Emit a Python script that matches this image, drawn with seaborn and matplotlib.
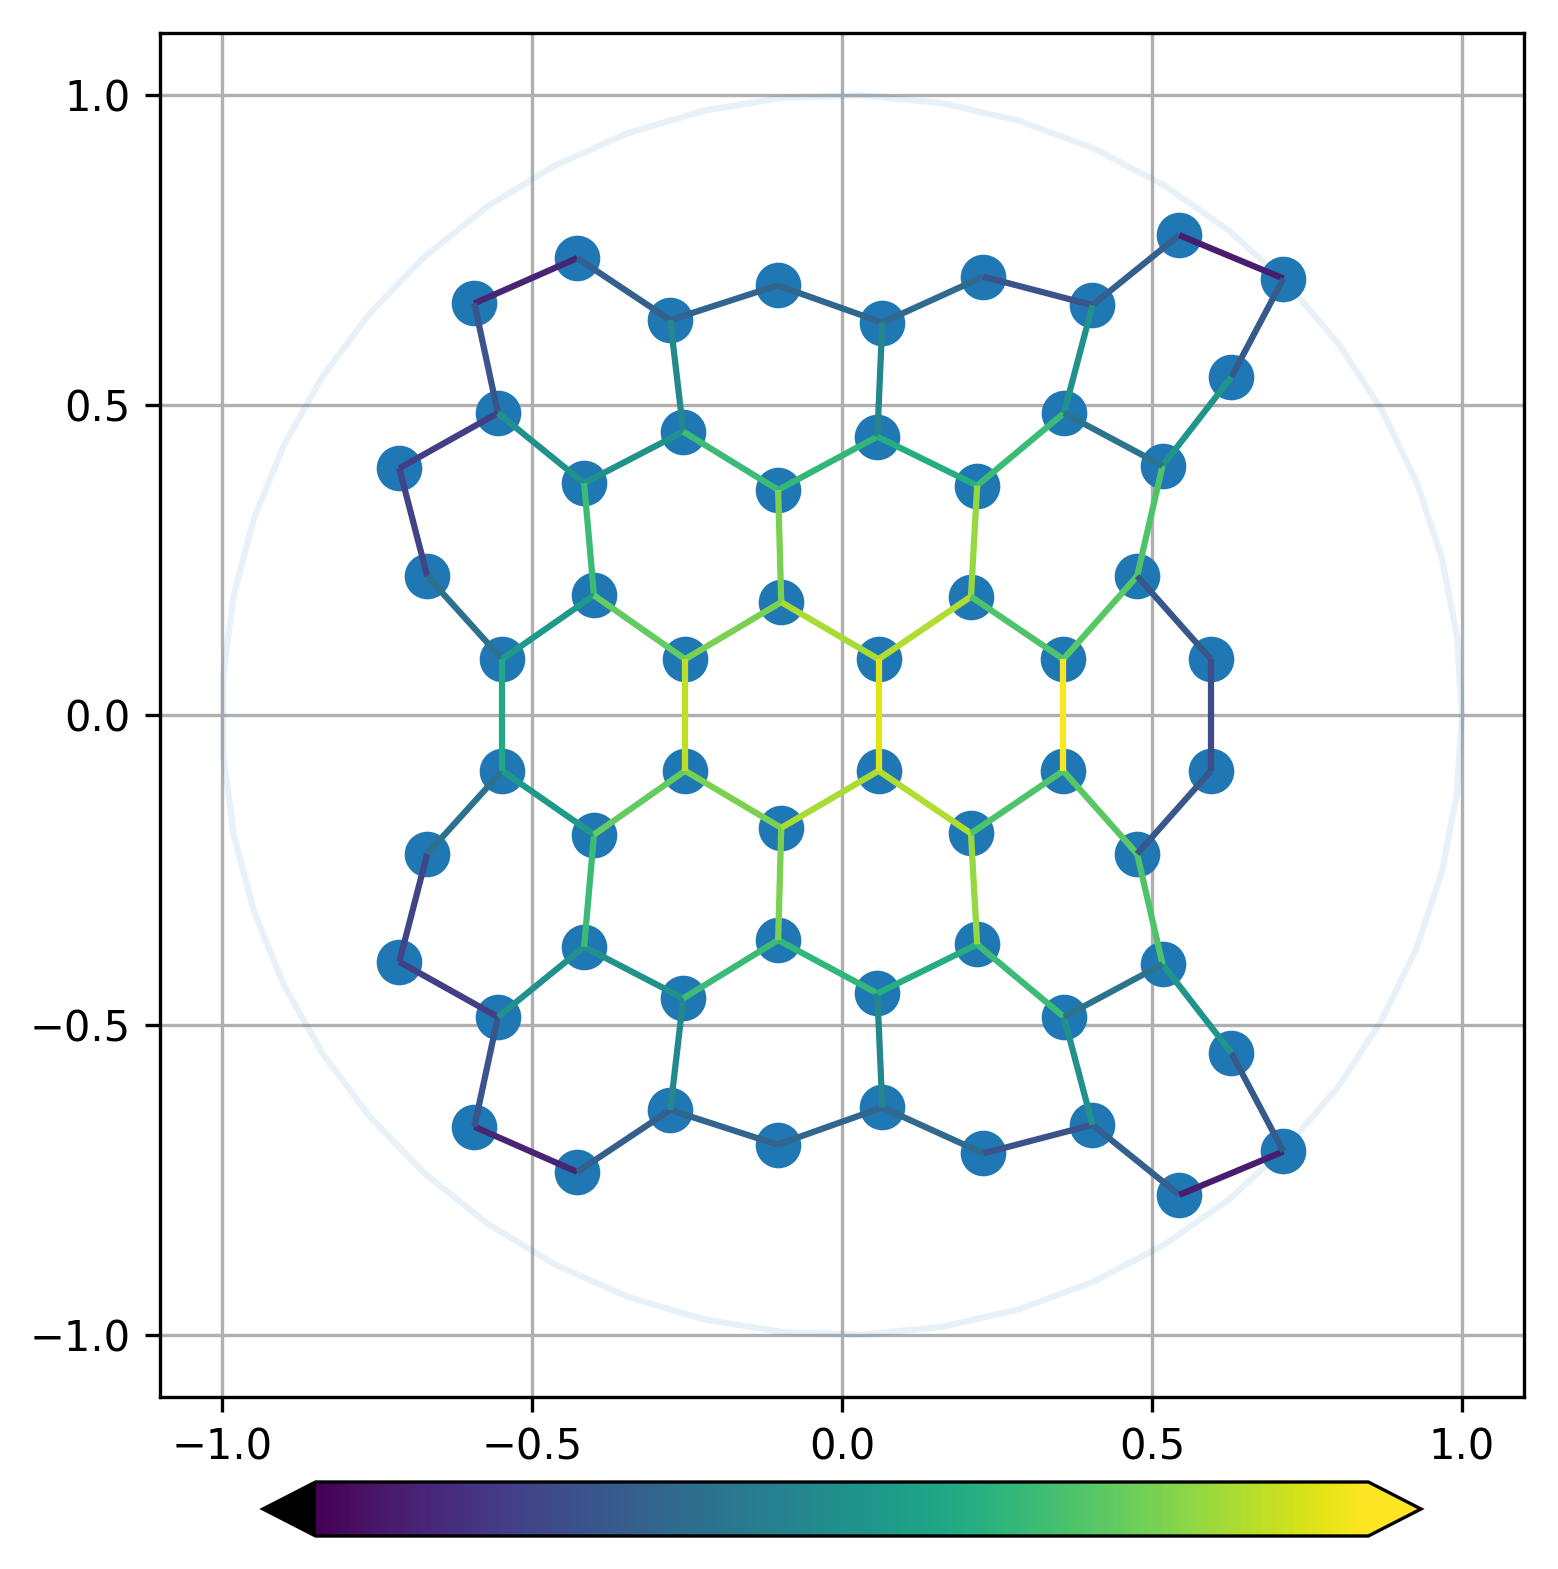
import numpy as np
import pandas as pd
import matplotlib
matplotlib.use('Agg')
import matplotlib.pyplot as plt
from matplotlib.collections import LineCollection
import seaborn as sns

# node positions in the disk (upper half first, then lower half)
node_x = [-0.593, -0.427, -0.277, -0.104, 0.065, 0.228, 0.404, 0.544, 0.712, 0.628,
          0.517, 0.476, -0.555, -0.714, -0.669, -0.548, -0.416, -0.256, -0.103, 0.057,
          0.218, 0.358, -0.400, -0.098, 0.208, -0.253, 0.059, 0.357, 0.595,
          -0.593, -0.427, -0.277, -0.104, 0.065, 0.228, 0.404, 0.544, 0.712, 0.628,
          0.517, 0.476, -0.555, -0.714, -0.669, -0.548, -0.416, -0.256, -0.103, 0.057,
          0.218, 0.358, -0.400, -0.098, 0.208, -0.253, 0.059, 0.357, 0.595]
node_y = [0.664, 0.737, 0.637, 0.693, 0.633, 0.707, 0.661, 0.774, 0.704, 0.545,
          0.402, 0.224, 0.487, 0.398, 0.224, 0.090, 0.374, 0.457, 0.363, 0.449,
          0.370, 0.487, 0.193, 0.182, 0.191, 0.090, 0.090, 0.090, 0.090,
          -0.664, -0.737, -0.637, -0.693, -0.633, -0.707, -0.661, -0.774, -0.704, -0.545,
          -0.402, -0.224, -0.487, -0.398, -0.224, -0.090, -0.374, -0.457, -0.363, -0.449,
          -0.370, -0.487, -0.193, -0.182, -0.191, -0.090, -0.090, -0.090, -0.090]

# bonds: start node, end node, value shown by colour
edge_src = [0, 1, 2, 3, 4, 5, 6, 7, 8, 9, 10, 0, 12, 13, 14, 12, 16, 17, 17, 18,
            19, 19, 20, 21, 21, 16, 18, 20, 22, 22, 23, 23, 24, 24, 11, 11,
            29, 30, 31, 32, 33, 34, 35, 36, 37, 38, 39, 29, 41, 42, 43, 41, 45, 46, 46, 47,
            48, 48, 49, 50, 50, 45, 47, 49, 51, 51, 52, 52, 53, 53, 40, 40,
            15, 25, 26, 27, 28]
edge_dst = [1, 2, 3, 4, 5, 6, 7, 8, 9, 10, 11, 12, 13, 14, 15, 16, 17, 2, 18, 19,
            4, 20, 21, 6, 10, 22, 23, 24, 15, 25, 25, 26, 26, 27, 27, 28,
            30, 31, 32, 33, 34, 35, 36, 37, 38, 39, 40, 41, 42, 43, 44, 45, 46, 31, 47, 48,
            33, 49, 50, 35, 39, 51, 52, 53, 44, 54, 54, 55, 55, 56, 56, 57,
            44, 54, 55, 56, 57]
edge_val = [0.10, 0.30, 0.32, 0.33, 0.34, 0.25, 0.30, 0.08, 0.28, 0.52, 0.72, 0.26,
            0.18, 0.20, 0.37, 0.50, 0.50, 0.47, 0.68, 0.66, 0.46, 0.62, 0.68, 0.50,
            0.38, 0.68, 0.80, 0.84, 0.54, 0.76, 0.80, 0.87, 0.88, 0.72, 0.74, 0.27,
            0.10, 0.30, 0.32, 0.33, 0.34, 0.25, 0.30, 0.08, 0.28, 0.52, 0.72, 0.26,
            0.18, 0.20, 0.37, 0.50, 0.50, 0.47, 0.68, 0.66, 0.46, 0.62, 0.68, 0.50,
            0.38, 0.68, 0.80, 0.84, 0.54, 0.76, 0.80, 0.87, 0.88, 0.72, 0.74, 0.27,
            0.60, 0.90, 0.95, 0.99, 0.23]

ticks = [-1.0, -0.5, 0.0, 0.5, 1.0]

nodes = pd.DataFrame({'x': node_x, 'y': node_y})

fig = plt.figure(figsize=(1558 / 300, 1569 / 300), dpi=300)
ax = fig.add_axes([160 / 1558, 172 / 1569, 1364 / 1558, 1364 / 1569])
cax = fig.add_axes([263 / 1558, 33 / 1569, 1158 / 1558, 54 / 1569])

# boundary of the disk
theta = np.linspace(0, 2 * np.pi, 50)
ax.plot(np.cos(theta), np.sin(theta), color='C0', alpha=0.1, lw=1.5, zorder=2)

sns.scatterplot(data=nodes, x='x', y='y', s=120, color='#1f77b4', linewidth=0,
                zorder=2.5, legend=False, ax=ax)

nx_ = np.array(node_x)
ny_ = np.array(node_y)
segs = np.stack([np.column_stack([nx_[edge_src], ny_[edge_src]]),
                 np.column_stack([nx_[edge_dst], ny_[edge_dst]])], axis=1)

cmap = plt.get_cmap('viridis').copy()
cmap.set_under('black')
norm = plt.Normalize(0, 1)
lc = LineCollection(segs, cmap=cmap, norm=norm, linewidths=1.5, zorder=3)
lc.set_array(np.array(edge_val))
ax.add_collection(lc)

ax.set_xlim(-1.1, 1.1)
ax.set_ylim(-1.1, 1.1)
ax.set_xticks(ticks)
ax.set_yticks(ticks)
ax.set_xlabel('')
ax.set_ylabel('')
ax.grid(True)

cbar = fig.colorbar(lc, cax=cax, orientation='horizontal', extend='both')
cbar.set_ticks([])

fig.savefig('out.png', dpi=300)
